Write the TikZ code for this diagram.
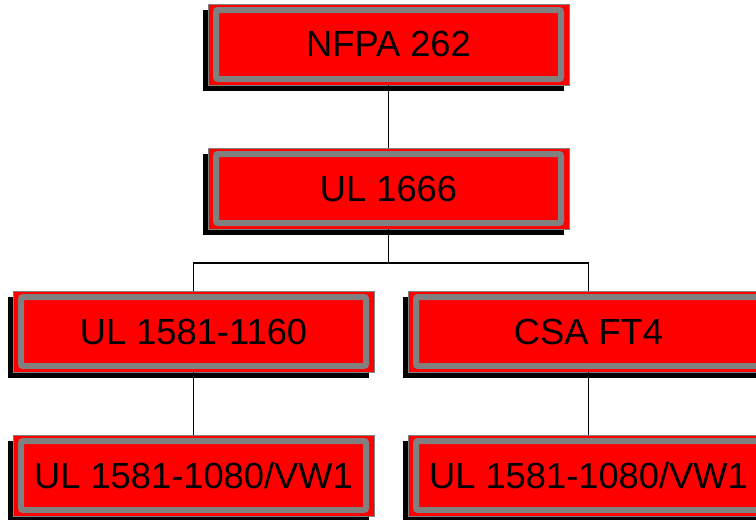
\documentclass[tikz,border=0pt]{standalone}
\usepackage{fontspec}
\setmainfont{Liberation Sans}
\usetikzlibrary{positioning,shadows}

\begin{document}
\begin{tikzpicture}[
  x=1pt, y=-1pt,
  std/.style={rectangle, draw=gray, line width=1pt, fill=red, minimum width=361pt, minimum height=81pt,
    inner sep=0pt, outer sep=0pt, font=\fontsize{36.3}{40}\selectfont,
    general shadow={fill=black, shadow xshift=-5.5pt, shadow yshift=-5.5pt},
    path picture={\draw[gray, line width=6pt, rounded corners=2pt]
      ([shift={(8pt,-6pt)}]path picture bounding box.north west) rectangle
      ([shift={(-8pt,6pt)}]path picture bounding box.south east);}},
  link/.style={draw=black, line width=1.4pt},
  node distance=63pt
]
\useasboundingbox (0,0) rectangle (756,520);
\clip (0,0) rectangle (756,520);

\node[std] (nfpa) at (388.5,44.5) {NFPA 262};
\node[std, below=of nfpa] (ul1666) {UL 1666};
\node[std] (ul1160) at (193.5,331.5) {UL 1581-1160};
\node[std] (csaft4) at (588.5,331.5) {CSA FT4};
\node[std, below=of ul1160] (vwleft)  {UL 1581-1080/VW1};
\node[std, below=of csaft4] (vwright) {UL 1581-1080/VW1};

\coordinate (split) at (388.5,263);

\draw[link] (nfpa) -- (ul1666);
\draw[link] (ul1666) -- (split) -| (ul1160);
\draw[link] (split) -| (csaft4);
\draw[link] (ul1160) -- (vwleft);
\draw[link] (csaft4) -- (vwright);
\end{tikzpicture}
\end{document}
